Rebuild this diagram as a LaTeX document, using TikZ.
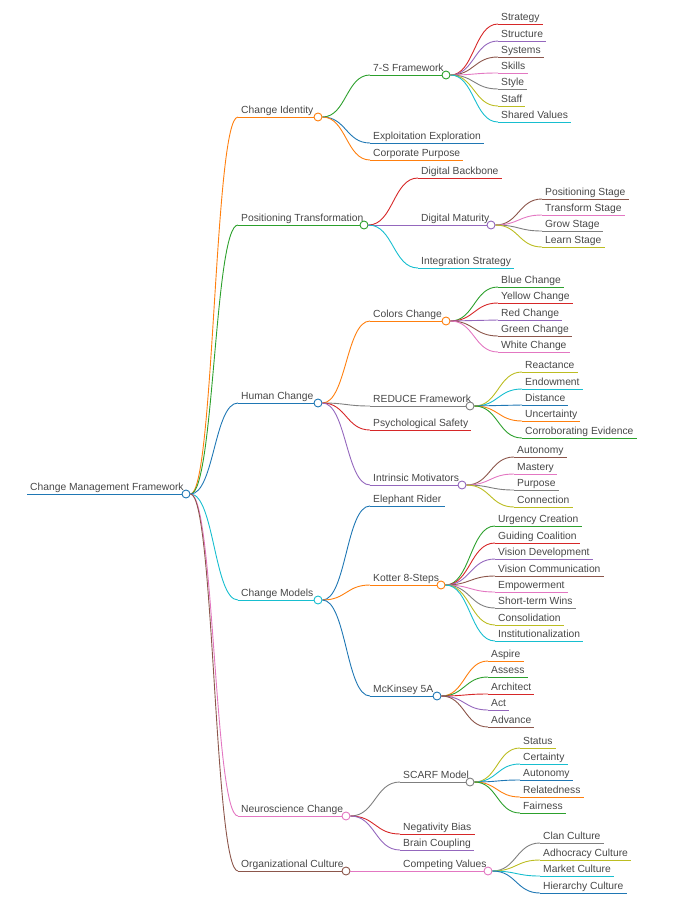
\documentclass[tikz,border=0pt]{standalone}
\usepackage{fontspec}
\setmainfont{Liberation Sans}
\usetikzlibrary{calc}
\definecolor{cB}{HTML}{1F77B4}\definecolor{cO}{HTML}{FF7F0E}\definecolor{cG}{HTML}{2CA02C}
\definecolor{cR}{HTML}{D62728}\definecolor{cP}{HTML}{9467BD}\definecolor{cN}{HTML}{8C564B}
\definecolor{cK}{HTML}{E377C2}\definecolor{cY}{HTML}{7F7F7F}\definecolor{cL}{HTML}{BCBD22}
\definecolor{cC}{HTML}{17BECF}
\tikzset{lbl/.style={font=\fontsize{10.3}{11}\selectfont,text=black!72,inner xsep=3pt,inner ysep=0pt,anchor=base west},
dot/.style={circle,fill=white,line width=0.9pt,minimum size=8pt,inner sep=0pt},
ln/.style={line width=0.9pt}}
% leaf: color, name, x, y, text
\newcommand\mleaf[5]{\node[lbl] (#2) at (#3,#4-4) {#5};
 \coordinate (#2-l) at (#3,#4); \draw[ln,#1] (#2-l) -- (#2-l -| #2.east);}
% parent: color, name, x, y, circle x, text
\newcommand\mpar[6]{\node[lbl] (#2) at (#3,#4-4) {#6};
 \coordinate (#2-l) at (#3,#4); \node[dot,draw=#1] (#2-c) at (#5,#4) {};
 \draw[ln,#1] (#2-l) -- (#2-c.west);}
\newcommand\mcon[3]{\draw[ln,#1] let \p1=(#2-c.east), \p2=(#3-l) in (\p1) .. controls ({(\x1+\x2)/2},\y1) and ({(\x1+\x2)/2},\y2) .. (\p2);}
\begin{document}
\begin{tikzpicture}[x=1pt,y=-1pt]
\useasboundingbox (0,0) rectangle (689,908);
\mpar{cB}{root}{27}{494}{186}{Change Management Framework}
% L1
\mpar{cO}{ci}{238}{117}{318}{Change Identity}
\mpar{cG}{pt}{238}{225}{364}{Positioning Transformation}
\mpar{cB}{hc}{238}{403}{318}{Human Change}
\mpar{cC}{cm}{238}{600}{318}{Change Models}
\mpar{cK}{nc}{238}{816}{346}{Neuroscience Change}
\mpar{cN}{oc}{238}{871}{346}{Organizational Culture}
\mcon{cO}{root}{ci}\mcon{cG}{root}{pt}\mcon{cB}{root}{hc}
\mcon{cC}{root}{cm}\mcon{cK}{root}{nc}\mcon{cN}{root}{oc}
% Change Identity
\mpar{cG}{ss}{370}{75}{446}{7-S Framework}
\mleaf{cB}{ee}{370}{143}{Exploitation Exploration}
\mleaf{cO}{cp}{370}{160}{Corporate Purpose}
\mcon{cG}{ci}{ss}\mcon{cB}{ci}{ee}\mcon{cO}{ci}{cp}
\mleaf{cR}{s1}{498}{24}{Strategy}\mcon{cR}{ss}{s1}
\mleaf{cP}{s2}{498}{41}{Structure}\mcon{cP}{ss}{s2}
\mleaf{cN}{s3}{498}{57}{Systems}\mcon{cN}{ss}{s3}
\mleaf{cK}{s4}{498}{73}{Skills}\mcon{cK}{ss}{s4}
\mleaf{cY}{s5}{498}{89}{Style}\mcon{cY}{ss}{s5}
\mleaf{cL}{s6}{498}{106}{Staff}\mcon{cL}{ss}{s6}
\mleaf{cC}{s7}{498}{122}{Shared Values}\mcon{cC}{ss}{s7}
% Positioning Transformation
\mleaf{cR}{db}{418}{178}{Digital Backbone}
\mpar{cP}{dm}{418}{225}{491}{Digital Maturity}
\mleaf{cC}{is}{418}{268}{Integration Strategy}
\mcon{cR}{pt}{db}\mcon{cP}{pt}{dm}\mcon{cC}{pt}{is}
\mleaf{cN}{d1}{542}{199}{Positioning Stage}\mcon{cN}{dm}{d1}
\mleaf{cK}{d2}{542}{215}{Transform Stage}\mcon{cK}{dm}{d2}
\mleaf{cY}{d3}{542}{231}{Grow Stage}\mcon{cY}{dm}{d3}
\mleaf{cL}{d4}{542}{247}{Learn Stage}\mcon{cL}{dm}{d4}
% Human Change
\mpar{cO}{cc}{370}{321}{446}{Colors Change}
\mpar{cY}{rf}{370}{406}{470}{REDUCE Framework}
\mleaf{cR}{ps}{370}{430}{Psychological Safety}
\mpar{cP}{im}{370}{485}{462}{Intrinsic Motivators}
\mcon{cO}{hc}{cc}\mcon{cY}{hc}{rf}\mcon{cR}{hc}{ps}\mcon{cP}{hc}{im}
\mleaf{cG}{c1}{498}{287}{Blue Change}\mcon{cG}{cc}{c1}
\mleaf{cR}{c2}{498}{303}{Yellow Change}\mcon{cR}{cc}{c2}
\mleaf{cP}{c3}{498}{320}{Red Change}\mcon{cP}{cc}{c3}
\mleaf{cN}{c4}{498}{336}{Green Change}\mcon{cN}{cc}{c4}
\mleaf{cK}{c5}{498}{352}{White Change}\mcon{cK}{cc}{c5}
\mleaf{cL}{r1}{522}{372}{Reactance}\mcon{cL}{rf}{r1}
\mleaf{cC}{r2}{522}{389}{Endowment}\mcon{cC}{rf}{r2}
\mleaf{cB}{r3}{522}{405}{Distance}\mcon{cB}{rf}{r3}
\mleaf{cO}{r4}{522}{421}{Uncertainty}\mcon{cO}{rf}{r4}
\mleaf{cG}{r5}{522}{438}{Corroborating Evidence}\mcon{cG}{rf}{r5}
\mleaf{cN}{i1}{514}{457}{Autonomy}\mcon{cN}{im}{i1}
\mleaf{cK}{i2}{514}{474}{Mastery}\mcon{cK}{im}{i2}
\mleaf{cY}{i3}{514}{490}{Purpose}\mcon{cY}{im}{i3}
\mleaf{cL}{i4}{514}{507}{Connection}\mcon{cL}{im}{i4}
% Change Models
\mleaf{cB}{er}{370}{506}{Elephant Rider}
\mpar{cO}{ko}{370}{585}{441}{Kotter 8-Steps}
\mpar{cB}{mk}{370}{696}{437}{McKinsey 5A}
\mcon{cB}{cm}{er}\mcon{cO}{cm}{ko}\mcon{cB}{cm}{mk}
\mleaf{cG}{k1}{495}{526}{Urgency Creation}\mcon{cG}{ko}{k1}
\mleaf{cR}{k2}{495}{543}{Guiding Coalition}\mcon{cR}{ko}{k2}
\mleaf{cP}{k3}{495}{559}{Vision Development}\mcon{cP}{ko}{k3}
\mleaf{cN}{k4}{495}{576}{Vision Communication}\mcon{cN}{ko}{k4}
\mleaf{cK}{k5}{495}{592}{Empowerment}\mcon{cK}{ko}{k5}
\mleaf{cY}{k6}{495}{608}{Short-term Wins}\mcon{cY}{ko}{k6}
\mleaf{cL}{k7}{495}{625}{Consolidation}\mcon{cL}{ko}{k7}
\mleaf{cC}{k8}{495}{641}{Institutionalization}\mcon{cC}{ko}{k8}
\mleaf{cO}{m1}{488}{661}{Aspire}\mcon{cO}{mk}{m1}
\mleaf{cG}{m2}{488}{677}{Assess}\mcon{cG}{mk}{m2}
\mleaf{cR}{m3}{488}{694}{Architect}\mcon{cR}{mk}{m3}
\mleaf{cP}{m4}{488}{710}{Act}\mcon{cP}{mk}{m4}
\mleaf{cN}{m5}{488}{727}{Advance}\mcon{cN}{mk}{m5}
% Neuroscience
\mpar{cY}{sc}{400}{782}{470}{SCARF Model}
\mleaf{cR}{nb}{400}{834}{Negativity Bias}
\mleaf{cP}{bc}{400}{850}{Brain Coupling}
\mcon{cY}{nc}{sc}\mcon{cR}{nc}{nb}\mcon{cP}{nc}{bc}
\mleaf{cL}{f1}{520}{748}{Status}\mcon{cL}{sc}{f1}
\mleaf{cC}{f2}{520}{764}{Certainty}\mcon{cC}{sc}{f2}
\mleaf{cB}{f3}{520}{780}{Autonomy}\mcon{cB}{sc}{f3}
\mleaf{cO}{f4}{520}{797}{Relatedness}\mcon{cO}{sc}{f4}
\mleaf{cG}{f5}{520}{813}{Fairness}\mcon{cG}{sc}{f5}
% Org culture
\mpar{cK}{cv}{400}{871}{488}{Competing Values}
\mcon{cK}{oc}{cv}
\mleaf{cY}{o1}{540}{843}{Clan Culture}\mcon{cY}{cv}{o1}
\mleaf{cL}{o2}{540}{860}{Adhocracy Culture}\mcon{cL}{cv}{o2}
\mleaf{cC}{o3}{540}{876}{Market Culture}\mcon{cC}{cv}{o3}
\mleaf{cB}{o4}{540}{893}{Hierarchy Culture}\mcon{cB}{cv}{o4}
\end{tikzpicture}
\end{document}
